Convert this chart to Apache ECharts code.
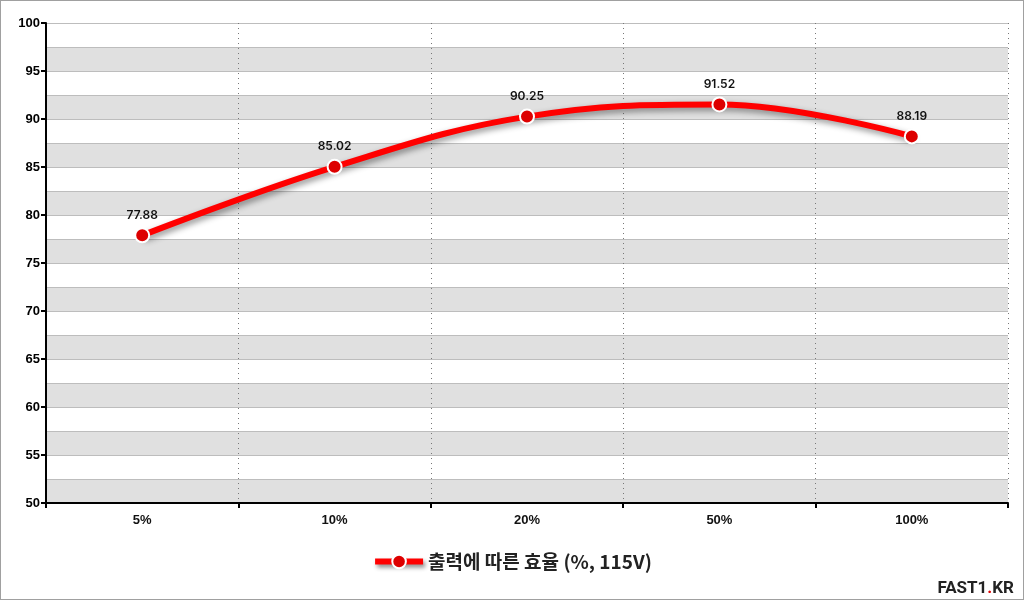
<!DOCTYPE html>
<html><head><meta charset="utf-8">
<script src="https://cdn.jsdelivr.net/npm/echarts@6/dist/echarts.min.js"></script>
<style>html,body{margin:0;padding:0;background:#fff}#c{width:1024px;height:600px;box-sizing:border-box;border:1px solid #a0a0a0}</style>
</head><body><div id="c"></div>
<script>
const categories = ['5%', '10%', '20%', '50%', '100%'];
const efficiency = [77.88, 85.02, 90.25, 91.52, 88.19];
const seriesName = '출력에 따른 효율 (%, 115V)';
const watermark = ['FAST1', '.', 'KR'];

const chart = echarts.init(document.getElementById('c'));
const font = 'Liberation Sans, Arial, sans-serif';
chart.setOption({
  animation: false,
  grid: { left: 45, right: 15, top: 22, bottom: 96 },
  xAxis: {
    type: 'category', data: categories, boundaryGap: true,
    axisLine: { lineStyle: { color: '#000', width: 2 } },
    axisTick: { show: true, length: 5, lineStyle: { color: '#000', width: 2 } },
    axisLabel: { color: '#111', fontWeight: 'bold', fontSize: 13, fontFamily: font, margin: 11 },
    splitLine: { show: true, lineStyle: { color: '#777', type: [1, 4], width: 1 } }
  },
  yAxis: [{
    type: 'value', min: 50, max: 100, interval: 5,
    axisLine: { show: true, lineStyle: { color: '#000', width: 2 } },
    axisTick: { show: true, length: 5, lineStyle: { color: '#000', width: 2 } },
    axisLabel: { color: '#000', fontWeight: 'bold', fontSize: 13, fontFamily: font, margin: 6 },
    splitLine: { show: false }
  }, {
    type: 'value', min: 50, max: 100, interval: 2.5, position: 'left',
    axisLine: { show: false }, axisTick: { show: false }, axisLabel: { show: false },
    splitLine: { show: true, lineStyle: { color: '#bdbdbd', width: 1 } },
    splitArea: { show: true, areaStyle: { color: ['#e0e0e0', '#ffffff'] } }
  }],
  legend: {
    bottom: 23, left: 'center', itemWidth: 48, itemHeight: 17, itemGap: 12,
    lineStyle: { width: 6, shadowColor: 'rgba(0,0,0,0.45)', shadowBlur: 4, shadowOffsetX: 2, shadowOffsetY: 3 },
    textStyle: { fontSize: 19, fontWeight: 'bold', color: '#222', fontFamily: 'Noto Sans CJK KR, sans-serif' },
    data: [seriesName]
  },
  graphic: [{
    type: 'text', right: 9, bottom: 2,
    style: {
      text: '{a|' + watermark[0] + '}{b|' + watermark[1] + '}{a|' + watermark[2] + '}',
      rich: {
        a: { fontSize: 17, fontWeight: 'bold', fill: '#222', fontFamily: 'Roboto, sans-serif' },
        b: { fontSize: 17, fontWeight: 'bold', fill: '#e00000', fontFamily: 'Roboto, sans-serif' }
      }
    }
  }],
  series: [{
    name: seriesName, type: 'line', data: efficiency, smooth: 0.4, yAxisIndex: 0,
    symbol: 'circle', symbolSize: 14,
    lineStyle: { color: '#ff0000', width: 6, shadowColor: 'rgba(0,0,0,0.45)', shadowBlur: 6, shadowOffsetX: 2, shadowOffsetY: 3 },
    itemStyle: { color: '#dd0000', borderColor: '#fff', borderWidth: 2 },
    label: { show: true, position: 'top', distance: 6, color: '#111', fontSize: 12, fontFamily: 'Inter, sans-serif', fontWeight: 600 },
    z: 5
  }]
});
</script></body></html>
